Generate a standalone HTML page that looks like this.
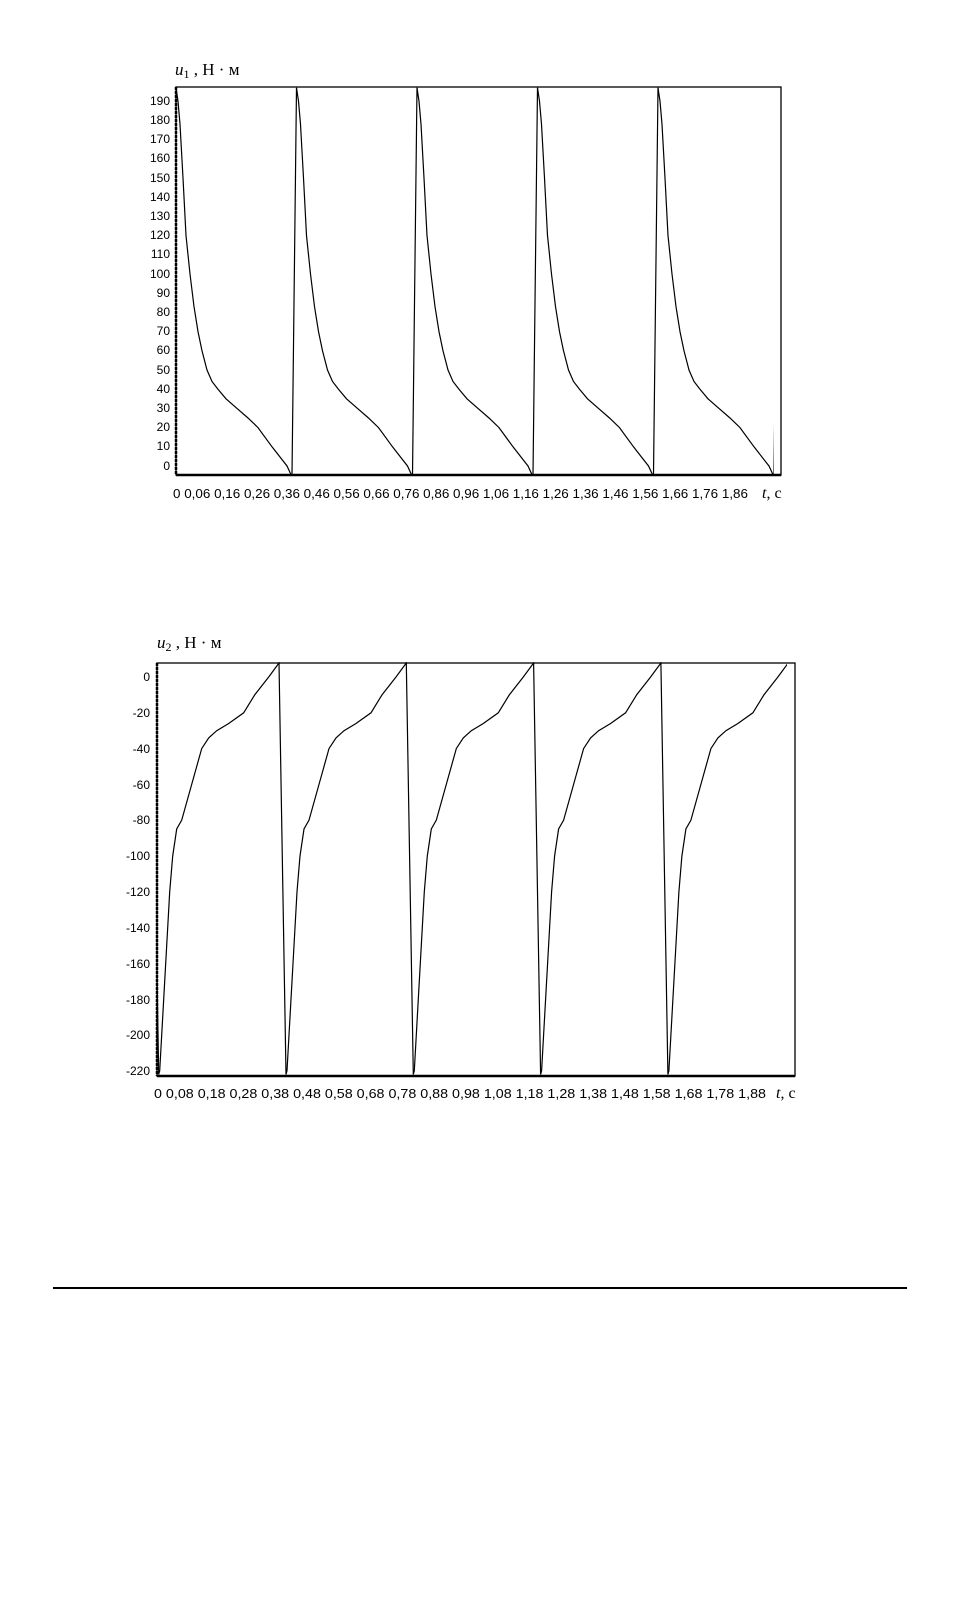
<!DOCTYPE html>
<html><head><meta charset="utf-8"><style>
html,body{margin:0;padding:0;background:#fff;}
svg{display:block;}
</style></head><body>
<svg width="956" height="1598" viewBox="0 0 956 1598" xmlns="http://www.w3.org/2000/svg">
<defs>
<clipPath id="c1"><rect x="176" y="86" width="598" height="390"/></clipPath>
<clipPath id="c2"><rect x="157" y="662" width="630" height="415"/></clipPath>
<path id="p1" d="M0,87.8 L2,101.2 L4,124.2 L7,178 L10,235.6 L14,274 L18,306.6 L22,331.6 L26,350.8 L31,370 L36,381.5 L42,389.2 L50,398.8 L61,408.4 L72,418 L82,427.6 L96,446.8 L111,466 L115,474.6 L116,474.6 L120.5,87.8" fill="none" stroke="#000" stroke-width="1.2"/>
<path id="p2" d="M0,1074.4 L1,1070.8 L3,1035 L5,999.2 L7,963.4 L9,927.6 L11,891.8 L14,856 L18,829 L23,820.2 L33,784.4 L43,748.6 L50,737.9 L58,730.7 L70,723.5 L85,712.8 L96,694.9 L110,677 L120.3,663 L127.3,1074.4" fill="none" stroke="#000" stroke-width="1.2"/>
</defs>

<!-- Chart 1 -->
<text x="175" y="75" font-family="Liberation Serif, serif" font-size="17"><tspan font-style="italic">u</tspan><tspan font-size="12" dy="3">1</tspan><tspan dy="-3"> ,  Н · м</tspan></text>
<rect x="176" y="87" width="605" height="388" fill="none" stroke="#000" stroke-width="1.3"/>
<line x1="176" y1="475" x2="781" y2="475" stroke="#000" stroke-width="2.5"/>
<line x1="176" y1="87" x2="176" y2="475" stroke="#000" stroke-width="2.5" stroke-dasharray="3,1"/>
<g clip-path="url(#c1)">
<use href="#p1" transform="translate(176,0)"/>
<use href="#p1" transform="translate(296.5,0)"/>
<use href="#p1" transform="translate(417,0)"/>
<use href="#p1" transform="translate(537.5,0)"/>
<use href="#p1" transform="translate(658,0)"/>
</g>
<g font-family="Liberation Sans, sans-serif" font-size="12" text-anchor="end">
<text x="170" y="105">190</text><text x="170" y="124">180</text><text x="170" y="143">170</text>
<text x="170" y="162">160</text><text x="170" y="182">150</text><text x="170" y="201">140</text>
<text x="170" y="220">130</text><text x="170" y="239">120</text><text x="170" y="258">110</text>
<text x="170" y="278">100</text><text x="170" y="297">90</text><text x="170" y="316">80</text>
<text x="170" y="335">70</text><text x="170" y="354">60</text><text x="170" y="374">50</text>
<text x="170" y="393">40</text><text x="170" y="412">30</text><text x="170" y="431">20</text>
<text x="170" y="450">10</text><text x="170" y="470">0</text>
</g>
<text x="173" y="498" font-family="Liberation Sans, sans-serif" font-size="12.5" textLength="575" lengthAdjust="spacingAndGlyphs">0 0,06 0,16 0,26 0,36 0,46 0,56 0,66 0,76 0,86 0,96 1,06 1,16 1,26 1,36 1,46 1,56 1,66 1,76 1,86</text>
<text x="762" y="498" font-family="Liberation Serif, serif" font-size="16"><tspan font-style="italic">t</tspan>,  с</text>

<!-- Chart 2 -->
<text x="157" y="648" font-family="Liberation Serif, serif" font-size="17"><tspan font-style="italic">u</tspan><tspan font-size="12" dy="3">2</tspan><tspan dy="-3"> ,  Н · м</tspan></text>
<rect x="157" y="663" width="638" height="413" fill="none" stroke="#000" stroke-width="1.3"/>
<line x1="157" y1="1076" x2="795" y2="1076" stroke="#000" stroke-width="2.5"/>
<line x1="157" y1="663" x2="157" y2="1076" stroke="#000" stroke-width="2.5" stroke-dasharray="3,1"/>
<g clip-path="url(#c2)">
<use href="#p2" transform="translate(31.4,0)"/>
<use href="#p2" transform="translate(158.7,0)"/>
<use href="#p2" transform="translate(286,0)"/>
<use href="#p2" transform="translate(413.3,0)"/>
<use href="#p2" transform="translate(540.6,0)"/>
<use href="#p2" transform="translate(667.9,0)"/>
</g>
<g font-family="Liberation Sans, sans-serif" font-size="12" text-anchor="end">
<text x="150" y="681">0</text><text x="150" y="717">-20</text><text x="150" y="753">-40</text>
<text x="150" y="789">-60</text><text x="150" y="824">-80</text><text x="150" y="860">-100</text>
<text x="150" y="896">-120</text><text x="150" y="932">-140</text><text x="150" y="968">-160</text>
<text x="150" y="1004">-180</text><text x="150" y="1039">-200</text><text x="150" y="1075">-220</text>
</g>
<text x="154" y="1098" font-family="Liberation Sans, sans-serif" font-size="12.5" textLength="612" lengthAdjust="spacingAndGlyphs">0  0,08 0,18 0,28 0,38 0,48 0,58 0,68 0,78 0,88 0,98 1,08 1,18 1,28 1,38 1,48 1,58 1,68 1,78 1,88</text>
<text x="776" y="1098" font-family="Liberation Serif, serif" font-size="16"><tspan font-style="italic">t</tspan>,  с</text>

<line x1="53" y1="1288" x2="907" y2="1288" stroke="#000" stroke-width="2"/>
</svg>
</body></html>
